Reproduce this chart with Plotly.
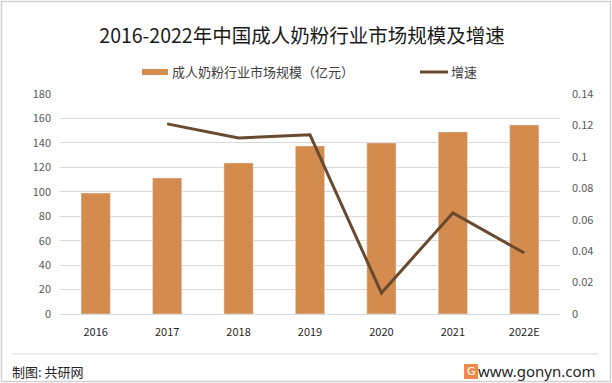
import plotly.graph_objects as go

categories = ["2016", "2017", "2018", "2019", "2020", "2021", "2022E"]
market_size = [99, 111.3, 123.6, 137.5, 140, 149, 154.7]
growth_years = ["2017", "2018", "2019", "2020", "2021", "2022E"]
growth = [0.121, 0.112, 0.114, 0.0134, 0.0643, 0.0388]
left_ticks = [0, 20, 40, 60, 80, 100, 120, 140, 160, 180]
right_ticks = [0, 0.02, 0.04, 0.06, 0.08, 0.1, 0.12, 0.14]
right_labels = ["0", "0.02", "0.04", "0.06", "0.08", "0.1", "0.12", "0.14"]
bar_name = "成人奶粉行业市场规模（亿元）"
line_name = "增速"

W, H = 612, 383
L, R, T, B = 60, 560, 94, 314

def px(x):
    return (x - L) / (R - L)

def py(y):
    return (B - y) / (B - T)

FONT = "Noto Sans CJK SC"
BAR_C = "#D48B4E"
LINE_C = "#6A4A2F"

fig = go.Figure()
fig.add_trace(go.Bar(
    x=categories, y=market_size, name=bar_name,
    marker_color=BAR_C, yaxis="y",
))
fig.add_trace(go.Scatter(
    x=growth_years, y=growth, name=line_name, mode="lines",
    line=dict(color=LINE_C, width=3), yaxis="y2",
))

fig.update_layout(
    width=W, height=H,
    margin=dict(l=L, r=W - R, t=T, b=H - B, autoexpand=False),
    paper_bgcolor="white", plot_bgcolor="white",
    font=dict(family=FONT, color="#595959", size=11),
    bargap=0.59,
    showlegend=False,
    title=dict(text="2016-2022年中国成人奶粉行业市场规模及增速", x=302 / W, xref="container",
               xanchor="center", y=1 - 36 / H, yanchor="middle",
               font=dict(size=19.5, color="#1a1a1a", family=FONT)),
    xaxis=dict(type="category", categoryorder="array", categoryarray=categories,
               showgrid=False, showline=True, linecolor="#D9D9D9", linewidth=1,
               ticks="", tickfont=dict(size=11, color="#262626"), ticklabelstandoff=8),
    yaxis=dict(range=[0, 180], tickvals=left_ticks, showgrid=True, gridcolor="#D9D9D9",
               gridwidth=1, zeroline=False, showline=False, ticks="",
               tickfont=dict(size=11, color="#595959"), ticklabelstandoff=8),
    yaxis2=dict(range=[0, 0.14], tickvals=right_ticks, ticktext=right_labels,
                overlaying="y", side="right", showgrid=False, zeroline=False,
                showline=False, ticks="", tickfont=dict(size=11, color="#595959"),
                ticklabelstandoff=11),
)

shapes = [
    dict(type="rect", xref="paper", yref="paper", x0=px(1.5), x1=px(610.5), y0=py(1.5), y1=py(381.5),
         line=dict(color="#D0D0D0", width=1.5), fillcolor="rgba(0,0,0,0)", layer="below"),
    dict(type="line", xref="paper", yref="paper", x0=px(12), x1=px(598), y0=py(354), y1=py(354),
         line=dict(color="#D9D9D9", width=1)),
    dict(type="rect", xref="paper", yref="paper", x0=px(464), x1=px(478), y0=py(364), y1=py(379),
         line=dict(width=0), fillcolor="#F08A4B"),
    # legend swatches
    dict(type="rect", xref="paper", yref="paper", x0=px(142), x1=px(168), y0=py(69), y1=py(75),
         line=dict(width=0), fillcolor=BAR_C),
    dict(type="line", xref="paper", yref="paper", x0=px(420), x1=px(448), y0=py(72), y1=py(72),
         line=dict(color=LINE_C, width=3)),
]
annotations = [
    dict(text=bar_name, xref="paper", yref="paper", x=px(170), y=py(72),
         xanchor="left", yanchor="middle", showarrow=False,
         font=dict(size=13, color="#404040", family=FONT)),
    dict(text=line_name, xref="paper", yref="paper", x=px(449), y=py(72),
         xanchor="left", yanchor="middle", showarrow=False,
         font=dict(size=13, color="#404040", family=FONT)),
    dict(text="制图: 共研网", xref="paper", yref="paper", x=px(10), y=py(371),
         xanchor="left", yanchor="middle", showarrow=False,
         font=dict(size=13, color="#262626", family=FONT)),
    dict(text="G", xref="paper", yref="paper", x=px(471), y=py(371.5),
         xanchor="center", yanchor="middle", showarrow=False,
         font=dict(size=11, color="white", family="DejaVu Sans")),
    dict(text="www.gonyn.com", xref="paper", yref="paper", x=px(598), y=py(371),
         xanchor="right", yanchor="middle", showarrow=False,
         font=dict(size=15, color="#262626", family="Noto Sans")),
]
fig.update_layout(shapes=shapes, annotations=annotations)

fig.write_html("out.html", config={"displayModeBar": False},
               post_script="document.body.style.margin='0';document.body.style.overflow='hidden';")
